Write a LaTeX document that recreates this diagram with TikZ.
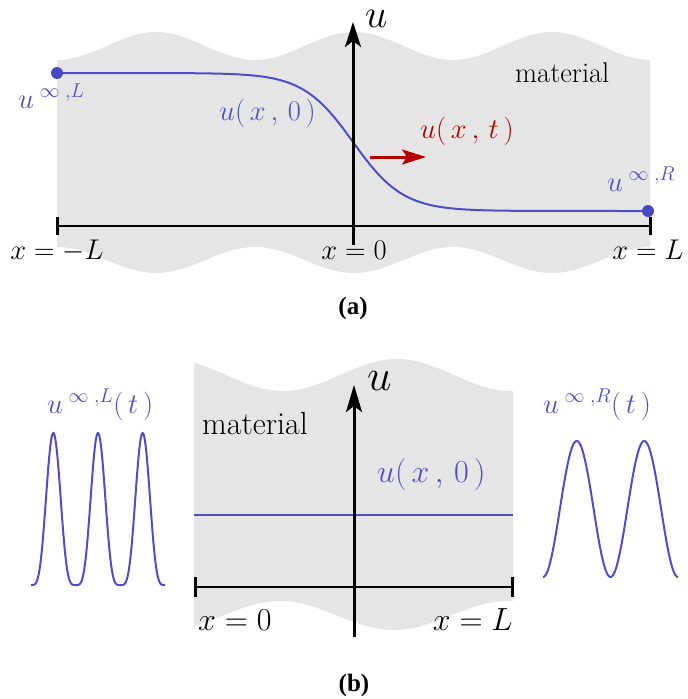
\RequirePackage{fix-cm}
\documentclass[tikz,border=0pt]{standalone}
\usepackage{fontspec}
\newfontfamily\capfont{Liberation Serif}
\usetikzlibrary{arrows.meta}
\definecolor{matgray}{RGB}{229,229,229}
\definecolor{bluec}{RGB}{78,78,200}
\definecolor{bluedot}{RGB}{72,72,196}
\definecolor{redc}{RGB}{180,0,0}
\newcommand\sza{\fontsize{28.5}{34}\selectfont}
\newcommand\szb{\fontsize{32}{38}\selectfont}
\newcommand\szau{\fontsize{40}{48}\selectfont}
\newcommand\szbu{\fontsize{44}{52}\selectfont}
\tikzset{
  lbl/.style={inner sep=0pt, anchor=base west},
  lblc/.style={inner sep=0pt, anchor=base},
  axisline/.style={line width=3pt, -{Stealth[length=25pt,width=16pt,inset=6pt]}},
  hline/.style={line width=2.5pt},
  tickline/.style={line width=3pt},
  bluecurve/.style={bluec, line width=2pt},
  caplbl/.style={inner sep=0pt, font=\capfont\bfseries\fontsize{25}{30}\selectfont},
}
\begin{document}
\begin{tikzpicture}[x=1pt,y=-1pt]
\useasboundingbox (0,0) rectangle (688,699);
% ---------------- (a) ----------------
\fill[matgray] plot[domain=57:650,samples=100,smooth] (\x,{46+14*cos((\x-57)*1.818182)})
  -- plot[domain=650:57,samples=100,smooth] (\x,{260-13*cos((\x-57)*1.818182)}) -- cycle;
\coordinate (aL) at (57,226);
\coordinate (aR) at (650,226);
\coordinate (aB) at (353,245);
\coordinate (aT) at (353,22);
\draw[hline] (aL) -- (aR);
\draw[tickline] ([yshift=9pt]aL) -- ([yshift=-9pt]aL);
\draw[tickline] ([yshift=9pt]aR) -- ([yshift=-9pt]aR);
\draw[bluecurve] plot[domain=57:648,samples=160] (\x,{142+69*tanh((\x-353)/50)});
\draw[axisline] (aB) -- (aT);
\coordinate (dL) at (57,73);
\coordinate (dR) at (648,211);
\fill[bluedot] (dL) circle[radius=6];
\fill[bluedot] (dR) circle[radius=6];
\coordinate (rs) at (370,157);
\coordinate (re) at (426,157);
\draw[redc, line width=3pt, -{Stealth[length=24pt,width=15pt,inset=5pt]}] (rs) -- (re);
\node[lbl] (ua) at (365,27) {\szau$u$};
\node[lbl, text=bluec] (uLa) at (18,108) {\sza$u^{\;\infty\;,L}$};
\node[lbl, text=bluec] (u0a) at (219,120) {\sza$u(\,x\,,\,0\,)$};
\node[lbl, text=redc] (uta) at (420,138) {\sza$u(\,x\,,\,t\,)$};
\node[lbl] (mata) at (515,82) {\sza material};
\node[lbl, text=bluec] (uRa) at (607,191) {\sza$u^{\;\infty\;,R}$};
\node[lblc] (xla) at (57,259) {\sza$x=-L$};
\node[lblc] (x0a) at (354,259) {\sza$x=0$};
\node[lblc] (xra) at (648,259) {\sza$x=L$};
\node[caplbl] (capa) at (353,308) {(a)};
% ---------------- (b) ----------------
\fill[matgray] plot[domain=194:513,samples=80,smooth] (\x,{375-16*cos((\x-397)*1.578947)})
  -- plot[domain=513:194,samples=80,smooth] (\x,{615.5+14.5*cos((\x-394)*1.578947)}) -- cycle;
\coordinate (bL) at (195,587);
\coordinate (bR) at (512,587);
\coordinate (bB) at (354,637);
\coordinate (bT) at (354,385);
\coordinate (blL) at (194,515);
\coordinate (blR) at (513,515);
\draw[bluecurve] (blL) -- (blR);
\draw[line width=2pt] (bL) -- (bR);
\draw[tickline] ([yshift=10pt]bL) -- ([yshift=-10pt]bL);
\draw[tickline] ([yshift=10pt]bR) -- ([yshift=-10pt]bR);
\draw[axisline, -{Stealth[length=27pt,width=16pt,inset=6pt]}] (bB) -- (bT);
\draw[bluecurve] plot[domain=31:165,samples=240] (\x,{585-152*pow(sin((\x-31)*4.029851),4)});
\draw[bluecurve] plot[domain=543:678,samples=160] (\x,{509-68*cos((\x-576.75)*5.333333)});
\node[lbl] (ub) at (367,390) {\szbu$u$};
\node[lbl] (matb) at (202,434) {\szb material};
\node[lbl, text=bluec] (u0b) at (377,482) {\szb$u(\,x\,,\,0\,)$};
\node[lbl] (x0b) at (198,630) {\szb$x=0$};
\node[inner sep=0pt, anchor=base east] (xrb) at (513,630) {\szb$x=L$};
\node[lbl, text=bluec] (uLb) at (47,413) {\sza$u^{\;\infty\;,L}(\,t\,)$};
\node[lbl, text=bluec] (uRb) at (543,413) {\sza$u^{\;\infty\;,R}(\,t\,)$};
\node[caplbl] (capb) at (354,685) {(b)};
\end{tikzpicture}
\end{document}
